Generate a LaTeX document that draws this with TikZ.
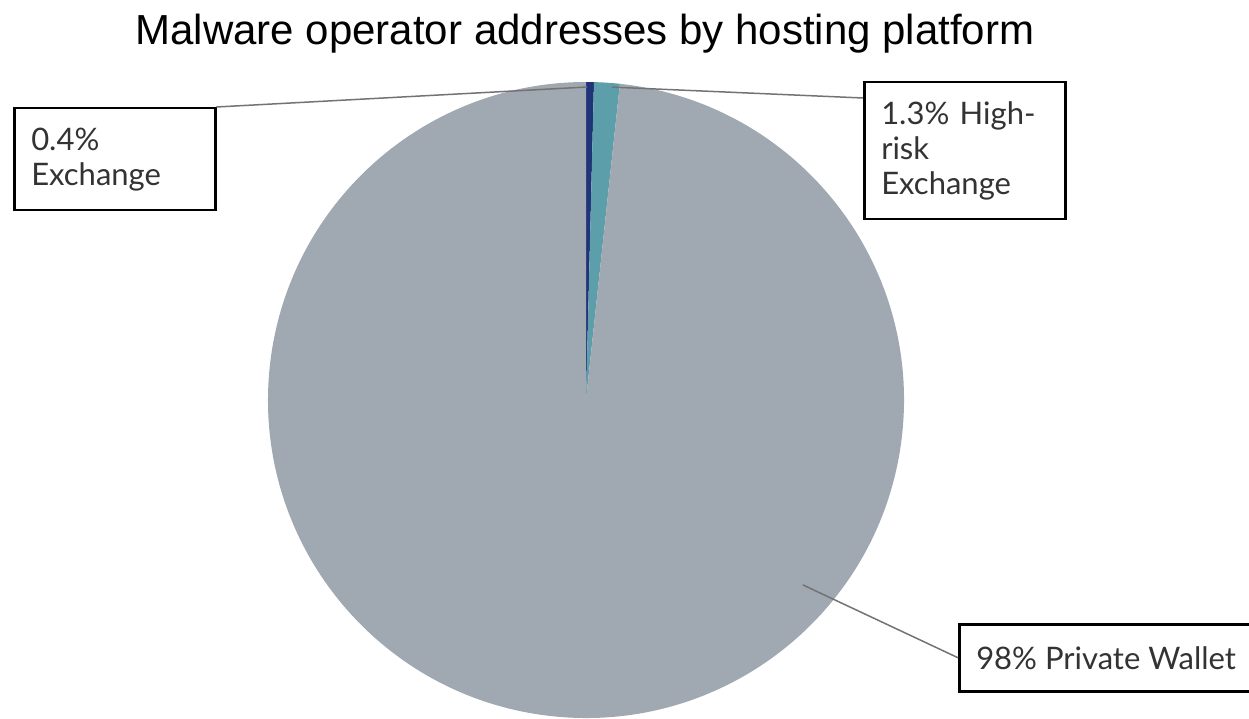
\documentclass[tikz,border=0pt]{standalone}
\usepackage{fontspec}
\setmainfont{Lato}
\newfontfamily\titlefont{Liberation Sans}
\usetikzlibrary{positioning,calc}
\definecolor{walletgray}{RGB}{160,168,178}
\definecolor{exchblue}{RGB}{33,52,120}
\definecolor{riskteal}{RGB}{92,158,170}
\tikzset{lbl/.style={draw=black, line width=2.5pt, fill=white, font=\fontsize{31}{35}\selectfont,
                     text=black!80, inner xsep=17pt, anchor=north west, align=left},
         lead/.style={draw=black!55, line width=1.5pt}
}

\begin{document}
\begin{tikzpicture}[x=1pt,y=-1pt]
  \useasboundingbox (0,0) rectangle (1249,719);
  \node[font=\titlefont\fontsize{42}{48}\selectfont, anchor=base] (title) at (585,45)
       {Malware operator addresses by hosting platform};

  \coordinate (pie) at (586,400);
  \begin{scope}[shift={(pie)}, y=1pt]
    % slices, clockwise from the top
    \fill[exchblue] (0,0) -- (90:318) arc[start angle=90, end angle=88.56, radius=318] -- cycle;
    \fill[riskteal] (0,0) -- (88.56:318) arc[start angle=88.56, end angle=83.88, radius=318] -- cycle;
    \fill[walletgray] (0,0) -- (83.88:318) arc[start angle=83.88, end angle=-270, radius=318] -- cycle;
    \coordinate (exTip) at (89.8:313);
    \coordinate (riskTip) at (85.25:314);
    \coordinate (walletTip) at (-40.45:285);
  \end{scope}

  \node[lbl, text width=167pt, minimum height=102pt] (exch) at (13,107) {0.4\%\\Exchange};
  \node[lbl, text width=167pt, minimum height=137pt] (hrisk) at (863,81) {1.3\% High-\\risk\\Exchange};
  \node[lbl, align=center, minimum width=288pt, minimum height=67pt] (wallet) at (958,623) {98\% Private Wallet};

  \draw[lead] (exch.north east) -- (exTip);
  \draw[lead] ($(hrisk.north west)+(0,17)$) -- (riskTip);
  \draw[lead] (wallet.west) -- (walletTip);
\end{tikzpicture}
\end{document}
